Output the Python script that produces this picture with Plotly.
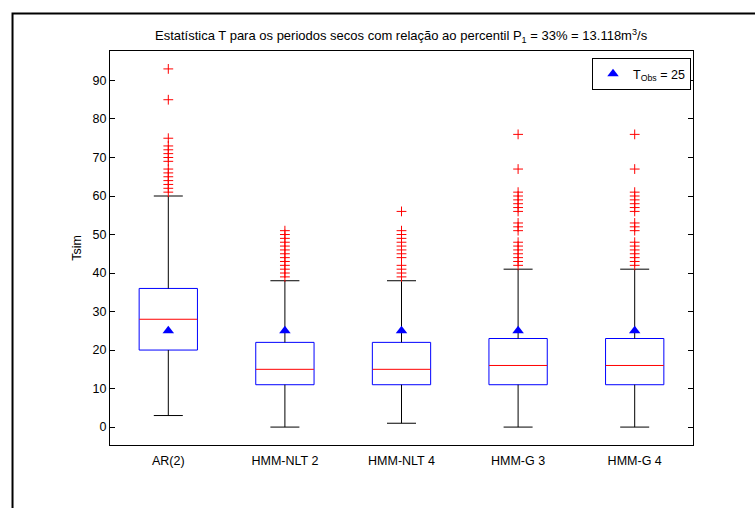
import plotly.graph_objects as go

categories = ["AR(2)", "HMM-NLT 2", "HMM-NLT 4", "HMM-G 3", "HMM-G 4"]
q1 = [20, 11, 11, 11, 11]
median = [28, 15, 15, 16, 16]
q3 = [36, 22, 22, 23, 23]
lower_whisker = [3, 0, 1, 0, 0]
upper_whisker = [60, 38, 38, 41, 41]
t_obs = 25

outliers = {
    "AR(2)": [93, 85, 75, 73, 72, 71, 70, 69, 67, 66, 65, 64, 63, 62, 61],
    "HMM-NLT 2": [51, 50, 49, 48, 47, 46, 45, 44, 43, 42, 41, 40, 39],
    "HMM-NLT 4": [56, 51, 50, 49, 48, 47, 46, 45, 44, 42, 41, 40, 39],
    "HMM-G 3": [76, 67, 61, 60, 59, 58, 57, 56, 53, 52, 51, 48, 47, 46, 45, 44, 43, 42],
    "HMM-G 4": [76, 67, 61, 60, 59, 58, 57, 56, 53, 52, 51, 48, 47, 46, 45, 44, 43, 42],
}

FONT = "Liberation Sans, Arial, sans-serif"
FS = 12.5
NOFILL = "rgba(0,0,0,0)"
BOX_W = 0.5          # box width in category units
CAP_PX = 29          # whisker cap length (px)
MED_PX = 58          # median line length (px) = box width

iqr = [b - a for a, b in zip(q1, q3)]
low_len = [a - w for a, w in zip(q1, lower_whisker)]
up_len = [w - b for b, w in zip(q3, upper_whisker)]

fig = go.Figure()

# blue boxes (Q1..Q3)
fig.add_trace(go.Bar(
    x=categories, y=iqr, base=q1, width=BOX_W,
    marker=dict(color=NOFILL, line=dict(color="#0000FF", width=1)),
    showlegend=False, hoverinfo="skip",
))

# lower whiskers: stem up to Q1, cap at the whisker end
fig.add_trace(go.Scatter(
    x=categories, y=lower_whisker, mode="markers",
    marker=dict(symbol="line-ew", size=CAP_PX / 1.4, color="black",
                line=dict(color="black", width=1)),
    error_y=dict(type="data", symmetric=False, array=low_len,
                 arrayminus=[0] * len(categories),
                 width=0, thickness=1, color="black"),
    showlegend=False, hoverinfo="skip",
))
# upper whiskers: stem from Q3, cap at the whisker end
fig.add_trace(go.Scatter(
    x=categories, y=upper_whisker, mode="markers",
    marker=dict(symbol="line-ew", size=CAP_PX / 1.4, color="black",
                line=dict(color="black", width=1)),
    error_y=dict(type="data", symmetric=False, array=[0] * len(categories),
                 arrayminus=up_len, width=0, thickness=1, color="black"),
    showlegend=False, hoverinfo="skip",
))

# red medians
fig.add_trace(go.Scatter(
    x=categories, y=median, mode="markers",
    marker=dict(symbol="line-ew", size=MED_PX / 1.4, color="#FF0000",
                line=dict(color="#FF0000", width=1)),
    showlegend=False, hoverinfo="skip",
))

# outliers
ox, oy = [], []
for c in categories:
    for v in outliers[c]:
        ox.append(c)
        oy.append(v)
fig.add_trace(go.Scatter(
    x=ox, y=oy, mode="markers",
    marker=dict(symbol="cross-thin", size=7, color="#FF0000",
                line=dict(color="#FF0000", width=1)),
    showlegend=False, hoverinfo="skip",
))

# observed statistic
fig.add_trace(go.Scatter(
    x=categories, y=[t_obs] * len(categories), mode="markers",
    marker=dict(symbol="triangle-up", size=10, color="#0000FF"),
    name="T<sub>Obs</sub> = 25", showlegend=True,
))

fig.update_layout(
    width=755, height=508,
    margin=dict(l=110, r=62, t=51, b=63),
    paper_bgcolor="white", plot_bgcolor="white",
    barmode="overlay",
    font=dict(family=FONT, size=FS, color="black"),
    showlegend=True,
    legend=dict(
        x=0.9966, y=0.982, xanchor="right", yanchor="top",
        bordercolor="black", borderwidth=1, bgcolor="white",
        font=dict(family=FONT, size=FS, color="black"),
        itemwidth=30,
    ),
    xaxis=dict(
        range=[-0.5, 4.5], showline=True, linecolor="black", linewidth=1,
        mirror=True, ticks="", showgrid=False, zeroline=False,
        ticklabelstandoff=4,
        tickfont=dict(family=FONT, size=FS, color="black"),
    ),
    yaxis=dict(
        range=[-4.65, 97.65], autorange=False,
        showline=True, linecolor="black", linewidth=1,
        mirror="ticks", ticks="inside", ticklen=5, tickcolor="black",
        tickvals=[0, 10, 20, 30, 40, 50, 60, 70, 80, 90],
        showgrid=False, zeroline=False,
        tickfont=dict(family=FONT, size=FS, color="black"),
        title=dict(text="Tsim", standoff=8,
                   font=dict(family=FONT, size=FS, color="black")),
    ),
    annotations=[dict(
        text="Estatística T para os periodos secos com relação ao percentil P<sub>1</sub> = 33% = 13.118m<sup>3</sup>/s",
        x=0.5, y=1.038, xref="paper", yref="paper",
        xanchor="center", yanchor="middle", showarrow=False,
        font=dict(family=FONT, size=13, color="black"),
    )],
    shapes=[dict(
        type="rect", xref="paper", yref="paper",
        x0=-0.1672, x1=1.12, y0=-0.2, y1=1.0952,
        line=dict(color="black", width=2), fillcolor="rgba(0,0,0,0)",
        layer="below",
    )],
)

fig.write_html("out.html")
